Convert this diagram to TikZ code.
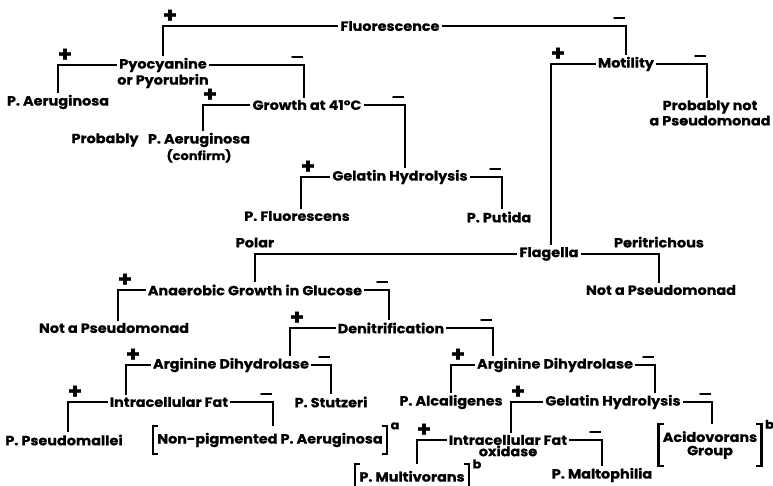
\documentclass[tikz,border=0pt]{standalone}
\usepackage{fontspec}
\setmainfont{Poppins}[BoldFeatures={FakeStretch=1.08,FakeBold=0.6}]
\usetikzlibrary{positioning,calc}

\begin{document}
\begin{tikzpicture}[x=0.75pt, y=-0.75pt, font=\bfseries\fontsize{10}{12}\selectfont,
  key/.style={inner sep=1.5pt},
  br/.style={line width=1.7pt},
  pl/.style={anchor=base west, inner sep=0pt, xshift=-1pt, yshift=2.6pt, font=\bfseries\fontsize{16}{16}\selectfont},
  mi/.style={anchor=base east, inner sep=0pt, xshift=0.8pt, yshift=2.5pt},
  fl/.style={anchor=south, inner sep=1pt, yshift=3pt},
  brk/.style={inner xsep=3pt, inner ysep=5pt, align=center},
  sup/.style={anchor=west, inner sep=1pt, xshift=1.5pt, font=\bfseries\fontsize{9}{9}\selectfont}]
\useasboundingbox (0,0) rectangle (773,485);
% fluorescence branch
\node[key] (fluor) at (390,26) {Fluorescence};
\node[key] (mot) at (626,64) {Motility};
\node[key] (pyo) at (163,65) {Pyocyanine};
\node[key, below=-2pt of pyo] (pyo2) {or Pyorubrin};
\node[key] (aer1) at (58,102) {P. Aeruginosa};
\node[key] (grow) at (307,105) {Growth at 41°C};
\node[key] (prob) at (105,140) {Probably};
\node[key] (aer2) at (199,140) {P. Aeruginosa};
\node[key, below=-2pt of aer2, font=\bfseries\small] (conf) {(confirm)};
\node[key] (gel1) at (400,177) {Gelatin Hydrolysis};
\node[key] (fluo) at (297,216) {P. Fluorescens};
\node[key] (put) at (499,217) {P. Putida};
\draw[br] (fluor.west) -| node[pl]{+} (pyo.north);
\draw[br] (fluor.east) -| node[mi]{—} (mot.north);
\draw[br] (pyo.west) -| node[pl]{+} (aer1.north);
\draw[br] (pyo.east) -| node[mi]{—} ($(grow.north)+(-3,0)$);
\draw[br] (grow.west) -| node[pl]{+} ($(aer2.north)+(4,0)$);
\draw[br] (grow.east) -| node[mi]{—} ($(gel1.north)+(5,0)$);
\draw[br] (gel1.west) -| node[pl]{+} ($(fluo.north)+(4,0)$);
\draw[br] (gel1.east) -| node[mi]{—} ($(put.north)+(3,0)$);
% motility and flagella
\node[key] (pnot) at (710,107) {Probably not};
\node[key, below=-2pt of pnot] (pnot2) {a Pseudomonad};
\node[key] (flag) at (549,254) {Flagella};
\node[key] (nap2) at (661,290) {Not a Pseudomonad};
\draw[br] (mot.west) -| node[pl]{+} ($(flag.north)+(2,0)$);
\draw[br] (mot.east) -| node[mi]{—} ($(pnot.north)+(-3,0)$);
% polar branch
\node[key] (ana) at (255,290) {Anaerobic Growth in Glucose};
\node[key] (nap1) at (114,328) {Not a Pseudomonad};
\node[key] (den) at (391,328) {Denitrification};
\draw[br] (flag.west) -| node[fl]{Polar} (ana.north);
\draw[br] (flag.east) -| node[fl]{Peritrichous} ($(nap2.north)+(-2,0)$);
\draw[br] (ana.west) -| node[pl]{+} ($(nap1.north)+(4,0)$);
\draw[br] (ana.east) -| node[mi]{—} ($(den.north)+(-2,0)$);
% left arginine
\node[key] (arg1) at (231,365) {Arginine Dihydrolase};
\node[key] (stu) at (331,402) {P. Stutzeri};
\node[key] (fat1) at (169,402) {Intracellular Fat};
\node[key] (pse) at (64,440) {P. Pseudomallei};
\node[brk, minimum height=18pt] (np) at (270,440) {Non-pigmented P. Aeruginosa};
\node[sup] at (np.north east) {a};
\draw[br] (den.west) -| node[pl]{+} ($(arg1.north)+(59,0)$);
\draw[br] (arg1.west) -| node[pl]{+} ($(fat1.north)+(-43,0)$);
\draw[br] (arg1.east) -| node[mi]{—} (stu.north);
\draw[br] (fat1.west) -| node[pl]{+} ($(pse.north)+(4,0)$);
\draw[br] (fat1.east) -| node[mi]{—} ($(np.north)+(3,0)$);
% right arginine
\node[key] (arg2) at (555,365) {Arginine Dihydrolase};
\node[key] (alc) at (451,402) {P. Alcaligenes};
\node[key] (gel2) at (613,402) {Gelatin Hydrolysis};
\node[key] (fat2) at (508,440) {Intracellular Fat};
\node[key, below=-3pt of fat2] (oxi) {oxidase};
\node[brk, minimum height=25pt] (acid) at (710,445) {Acidovorans\\[-2pt]Group};
\node[sup] at (acid.north east) {b};
\node[brk, minimum height=16pt, anchor=north] (mul) at (412,464) {P. Multivorans};
\node[sup] at (mul.north east) {b};
\node[key] (mal) at (602,475) {P. Maltophilia};
\draw[br] (den.east) -| node[mi]{—} ($(arg2.north)+(-62,0)$);
\draw[br] (arg2.west) -| node[pl]{+} (alc.north);
\draw[br] (arg2.east) -| node[mi]{—} ($(gel2.north)+(42,0)$);
\draw[br] (gel2.west) -| node[pl]{+} ($(fat2.north)+(3,0)$);
\draw[br] (gel2.east) -| node[mi]{—} ($(acid.north)+(2,0)$);
\draw[br] (fat2.west) -| node[pl]{+} ($(mul.north)+(5,0)$);
\draw[br] (fat2.east) -| node[mi]{—} (mal.north);
% brackets
\foreach \b in {np,acid,mul}{
  \draw[br] ([xshift=4pt]\b.north west) -- (\b.north west) -- (\b.south west) -- ([xshift=4pt]\b.south west);
  \draw[br] ([xshift=-4pt]\b.north east) -- (\b.north east) -- (\b.south east) -- ([xshift=-4pt]\b.south east);
}
\end{tikzpicture}
\end{document}
